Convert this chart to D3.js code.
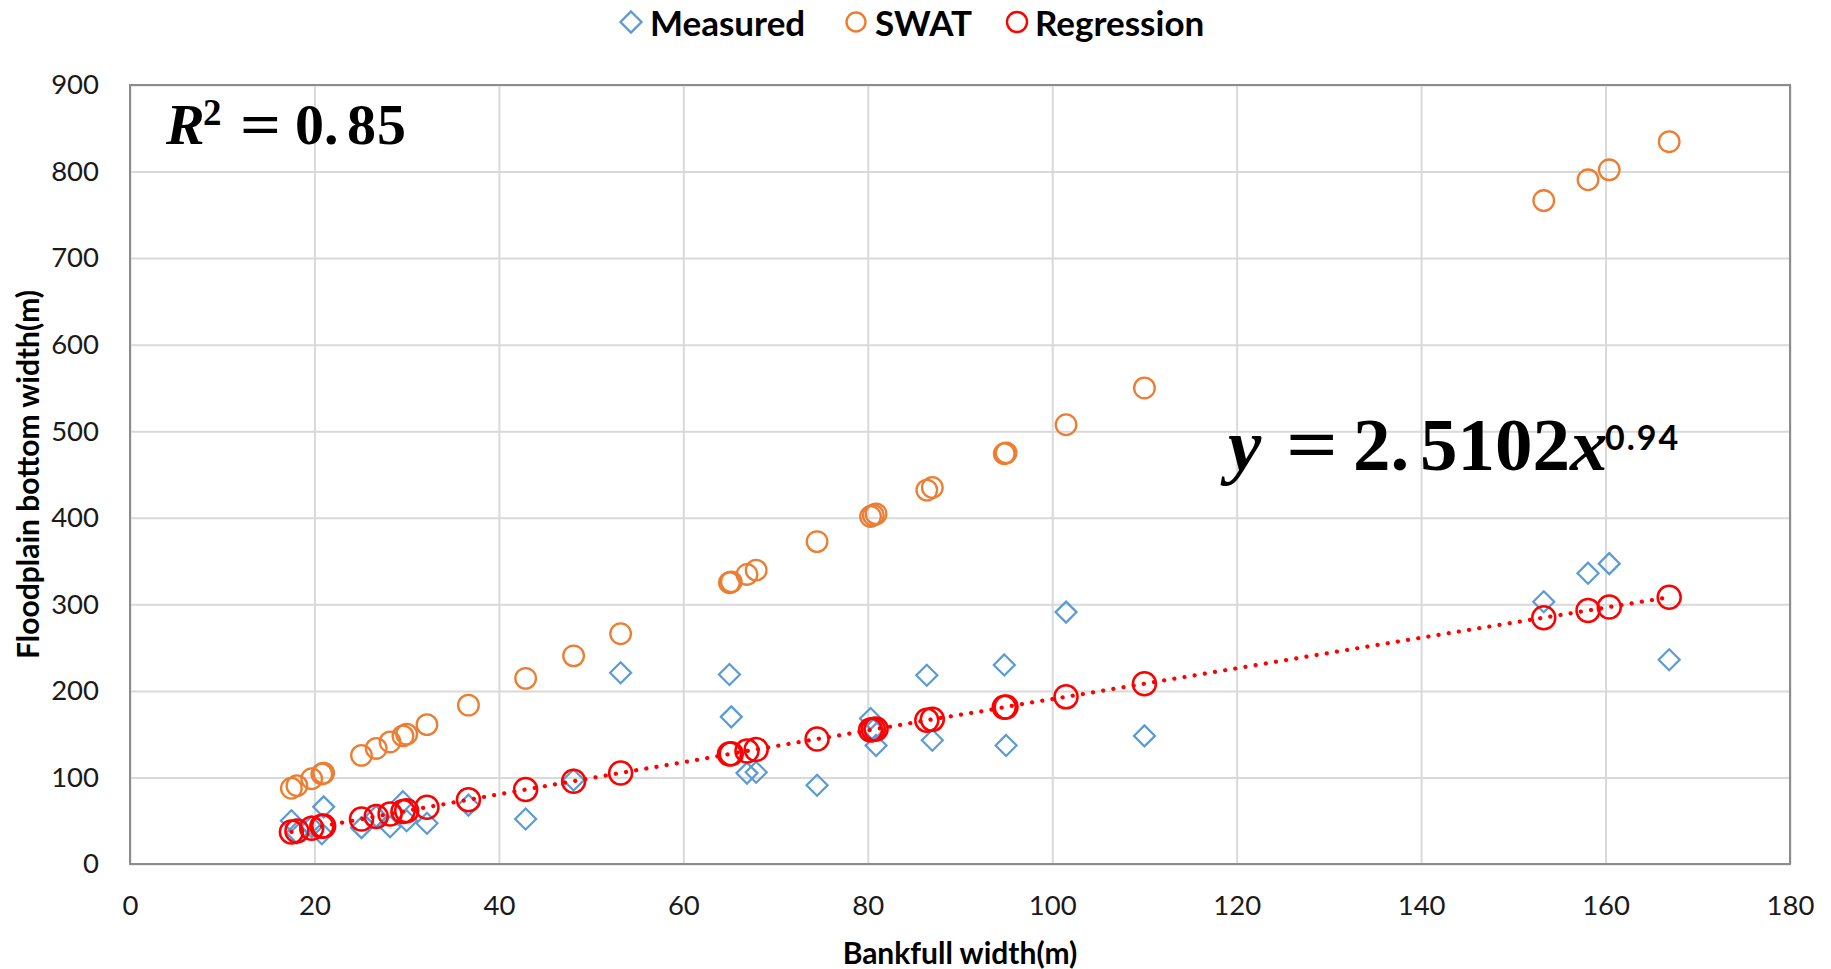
<!DOCTYPE html>
<html><head><meta charset="utf-8">
<script src="https://cdn.jsdelivr.net/npm/d3@7"></script>
<style>body{margin:0;background:#fff;overflow:hidden}</style></head>
<body>
<svg id="c" width="1831" height="969"></svg>
<script>
// ---- data ----
const bankfullWidth = [17.5, 18.1, 19.7, 20.8, 21.0, 25.1, 26.7, 28.2, 29.6, 30.0, 32.2, 36.7, 42.9, 48.1, 53.2, 65.0, 65.2, 66.9, 67.9, 74.5, 80.3, 80.6, 80.9, 86.4, 87.0, 94.8, 95.0, 101.5, 110.0, 153.3, 158.1, 160.4, 166.9];
const measured = [50, 36, 43, 35, 66, 42, 55, 43, 72, 50, 47, 68, 52, 97, 221, 219, 170, 105, 106, 91, 168, 155, 137, 218, 143, 230, 137, 291, 148, 303, 336, 347, 236];
const swat = [87.5, 90.5, 98.5, 104, 105, 125.5, 133.5, 141, 148, 150, 161, 183.5, 214.5, 240.5, 266, 325, 326, 334.5, 339.5, 372.5, 401.5, 403, 404.5, 432, 435, 474, 475, 507.5, 550, 766.5, 790.5, 802, 834.5];
const regression = [37.0, 38.2, 41.4, 43.5, 43.9, 51.9, 55.0, 57.9, 60.6, 61.4, 65.6, 74.2, 86.0, 95.7, 105.2, 127.0, 127.4, 130.5, 132.3, 144.4, 154.9, 155.5, 156.0, 166.0, 167.1, 181.1, 181.5, 193.1, 208.3, 284.6, 292.9, 296.9, 308.2];
const xTicks = [0, 20, 40, 60, 80, 100, 120, 140, 160, 180];
const yTicks = [0, 100, 200, 300, 400, 500, 600, 700, 800, 900];
const seriesNames = ["Measured", "SWAT", "Regression"];
const xTitle = "Bankfull width(m)";
const yTitle = "Floodplain bottom width(m)";

// ---- layout ----
const svg = d3.select("#c");
const L = 130, R = 1790, T = 85, B = 864;
const x = d3.scaleLinear().domain([0, 180]).range([L, R]);
const y = d3.scaleLinear().domain([0, 900]).range([B, T]);
const sans = "Lato, 'Open Sans', sans-serif";
const serif = "'Liberation Serif', 'DejaVu Serif', serif";
const colors = {Measured: "#5B9BD5", SWAT: "#ED7D31", Regression: "#FF0000"};

// gridlines
const gx = d3.axisBottom(x).tickValues(xTicks).tickSize(-(B - T)).tickFormat("");
const gy = d3.axisLeft(y).tickValues(yTicks).tickSize(-(R - L)).tickFormat("");
svg.append("g").attr("transform", `translate(0,${B})`).call(gx)
  .call(g => g.select(".domain").remove())
  .selectAll("line").attr("stroke", "#D9D9D9").attr("stroke-width", 2);
svg.append("g").attr("transform", `translate(${L},0)`).call(gy)
  .call(g => g.select(".domain").remove())
  .selectAll("line").attr("stroke", "#D9D9D9").attr("stroke-width", 2);

// plot border
svg.append("rect").attr("x", L).attr("y", T).attr("width", R - L).attr("height", B - T)
  .attr("fill", "none").attr("stroke", "#8C8C8C").attr("stroke-width", 2);

// tick labels via axes
const ax = svg.append("g").attr("transform", `translate(0,${B})`)
  .call(d3.axisBottom(x).tickValues(xTicks).tickSize(0).tickPadding(31).tickFormat(d3.format("d")));
ax.select(".domain").remove();
ax.selectAll("text").attr("font-family", sans).attr("font-size", 27.5).attr("fill", "#1a1a1a");
const ay = svg.append("g").attr("transform", `translate(${L},0)`)
  .call(d3.axisLeft(y).tickValues(yTicks).tickSize(0).tickPadding(31).tickFormat(d3.format("d")));
ay.select(".domain").remove();
ay.selectAll("text").attr("font-family", sans).attr("font-size", 27.5).attr("fill", "#1a1a1a");

// axis titles
svg.append("text").attr("x", (L + R) / 2).attr("y", 952).attr("text-anchor", "middle")
  .attr("dominant-baseline", "central")
  .attr("font-family", sans).attr("font-weight", 700).attr("font-size", 30).text(xTitle);
svg.append("text").attr("transform", `translate(27,${(T + B) / 2}) rotate(-90)`)
  .attr("text-anchor", "middle").attr("dominant-baseline", "central")
  .attr("font-family", sans).attr("font-weight", 700).attr("font-size", 30).text(yTitle);

const pts = bankfullWidth.map((bw, i) => ({bw, m: measured[i], s: swat[i], r: regression[i]}));
const diamond = s => `M0,${-s}L${s},0L0,${s}L${-s},0Z`;

// Measured
svg.append("g").selectAll("path").data(pts).join("path")
  .attr("d", diamond(10.5)).attr("transform", d => `translate(${x(d.bw)},${y(d.m)})`)
  .attr("fill", "none").attr("stroke", colors.Measured).attr("stroke-width", 2.2);
// SWAT
svg.append("g").selectAll("circle").data(pts).join("circle")
  .attr("cx", d => x(d.bw)).attr("cy", d => y(d.s)).attr("r", 10.3)
  .attr("fill", "none").attr("stroke", colors.SWAT).attr("stroke-width", 2.3);
// Regression
svg.append("g").selectAll("circle").data(pts).join("circle")
  .attr("cx", d => x(d.bw)).attr("cy", d => y(d.r)).attr("r", 11.5)
  .attr("fill", "none").attr("stroke", colors.Regression).attr("stroke-width", 2.5);

// trendline (dotted)
const sorted = pts.slice().sort((a, b) => a.bw - b.bw);
svg.append("path").datum(sorted)
  .attr("d", d3.line().x(d => x(d.bw)).y(d => y(d.r)).curve(d3.curveMonotoneX))
  .attr("fill", "none").attr("stroke", "#FF0000").attr("stroke-width", 4.2)
  .attr("stroke-linecap", "round").attr("stroke-dasharray", "0.1 10.2");

// legend
const legend = svg.append("g");
const legItems = [
  {name: seriesNames[0], mx: 631, tx: 650},
  {name: seriesNames[1], mx: 856, tx: 875},
  {name: seriesNames[2], mx: 1017, tx: 1035}
];
legItems.forEach((it, i) => {
  if (i === 0) legend.append("path").attr("d", diamond(10.5)).attr("transform", `translate(${it.mx},22)`)
    .attr("fill", "none").attr("stroke", colors.Measured).attr("stroke-width", 2.3);
  else legend.append("circle").attr("cx", it.mx).attr("cy", 22).attr("r", i === 1 ? 9.5 : 10)
    .attr("fill", "none").attr("stroke", colors[it.name]).attr("stroke-width", 2.4);
  legend.append("text").attr("x", it.tx).attr("y", 22).attr("dominant-baseline", "central")
    .attr("font-family", sans).attr("font-weight", 700).attr("font-size", 35).attr("fill", "#000").text(it.name);
});

// annotations
function pieces(list, baseline) {
  list.forEach(p => {
    const t = svg.append("text")
      .attr("font-family", p.f || serif).attr("font-weight", 700)
      .attr("font-style", p.it ? "italic" : "normal").attr("font-size", p.s)
      .attr("letter-spacing", p.ls || 0).attr("fill", "#000").text(p.t);
    if (p.sx) t.attr("transform", `translate(${p.x},${baseline + (p.dy || 0)}) scale(${p.sx},1)`);
    else t.attr("x", p.x).attr("y", baseline + (p.dy || 0));
  });
}
pieces([
  {t: "R", x: 166, s: 58, it: true},
  {t: "2", x: 203, s: 37, dy: -19},
  {t: "=", x: 240, s: 60, sx: 1.2},
  {t: "0.", x: 295, s: 58},
  {t: "85", x: 347, s: 58, ls: 1},
  ], 144);
pieces([
  {t: "y", x: 1228, s: 75, it: true},
  {t: "=", x: 1286, s: 76, sx: 1.2},
  {t: "2.", x: 1353, s: 75},
  {t: "5102", x: 1420, s: 75},
  {t: "x", x: 1570, s: 75, it: true},
  {t: "0.94", x: 1605, s: 34, f: sans, ls: 2, dy: -20}
], 470);
</script>
</body></html>
